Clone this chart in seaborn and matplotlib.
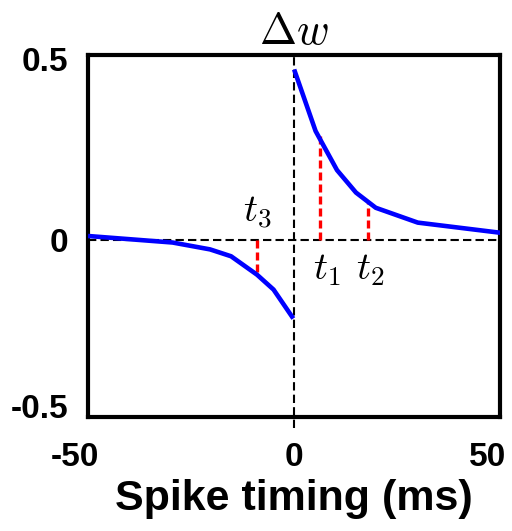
import numpy as np
import pandas as pd
import matplotlib
matplotlib.use('Agg')
import matplotlib.pyplot as plt
import matplotlib.transforms as mtransforms
import seaborn as sns

# STDP window
t_pos = [0, 5.2, 10.4, 15, 19.8, 30, 50]
w_pos = [0.47, 0.30, 0.192, 0.13, 0.088, 0.047, 0.019]
t_neg = [-50, -29.5, -20.4, -15.3, -9, -5, -0.2]
w_neg = [0.01, -0.008, -0.027, -0.046, -0.097, -0.138, -0.218]

# marked spike timings and their weight changes
mark_t = [6.3, 18, -9]
mark_w = [0.285, 0.105, -0.097]

sns.set_style('white')
plt.rcParams['font.family'] = ['Liberation Sans', 'DejaVu Sans']
plt.rcParams['mathtext.fontset'] = 'cm'
for k in ['text.color', 'axes.labelcolor', 'xtick.color', 'ytick.color']:
    plt.rcParams[k] = 'black'

fig = plt.figure(figsize=(5.12, 5.31), dpi=100)
ax = fig.add_axes([0.172, 0.2147, 0.805, 0.6817])

df = pd.concat([pd.DataFrame({'t': t_neg, 'w': w_neg, 'branch': 'neg'}),
                pd.DataFrame({'t': t_pos, 'w': w_pos, 'branch': 'pos'})])

ax.axhline(0, color='black', lw=1.5, dashes=(4, 2), zorder=1)
ax.plot([0, 0], [-0.52, 0.51], color='black', lw=1.5, dashes=(4, 2),
        clip_on=False, zorder=1)

sns.lineplot(data=df, x='t', y='w', units='branch', estimator=None,
             color='blue', lw=3.3, ax=ax, zorder=3, solid_capstyle='butt')

for t, w in zip(mark_t, mark_w):
    ax.plot([t, t], [0, w], color='red', lw=2.4, dashes=(2.4, 1.2), zorder=2)

ax.text(-9, 0.075, '$t_3$', fontsize=28, ha='center', va='center')
ax.text(8, -0.085, '$t_1$', fontsize=28, ha='center', va='center')
ax.text(18.5, -0.085, '$t_2$', fontsize=28, ha='center', va='center')

ax.set_xlim(-50, 50)
ax.set_ylim(-0.49, 0.51)
ax.set_xticks([-50, 0, 50])
ax.set_xticklabels(['-50', '0', '50'])
ax.set_yticks([0.5, 0, -0.46])
ax.set_yticklabels(['0.5', '0', '-0.5'])
ax.tick_params(length=0, labelsize=24)
ax.tick_params(axis='x', pad=18)
ax.tick_params(axis='y', pad=14)
for lab in ax.get_xticklabels() + ax.get_yticklabels():
    lab.set_fontweight('bold')

# outer x labels sit a bit left of the frame corners
shift = mtransforms.ScaledTranslation(-0.13, 0, fig.dpi_scale_trans)
xlabs = ax.get_xticklabels()
for lab in (xlabs[0], xlabs[-1]):
    lab.set_transform(lab.get_transform() + shift)

ax.set_xlabel('Spike timing (ms)', fontsize=31, fontweight='bold', labelpad=4)
ax.set_ylabel('')
ax.set_title(r'$\Delta w$', fontsize=32, pad=8)

for s in ax.spines.values():
    s.set_linewidth(3)
    s.set_color('black')

fig.savefig('out.png', dpi=100)
